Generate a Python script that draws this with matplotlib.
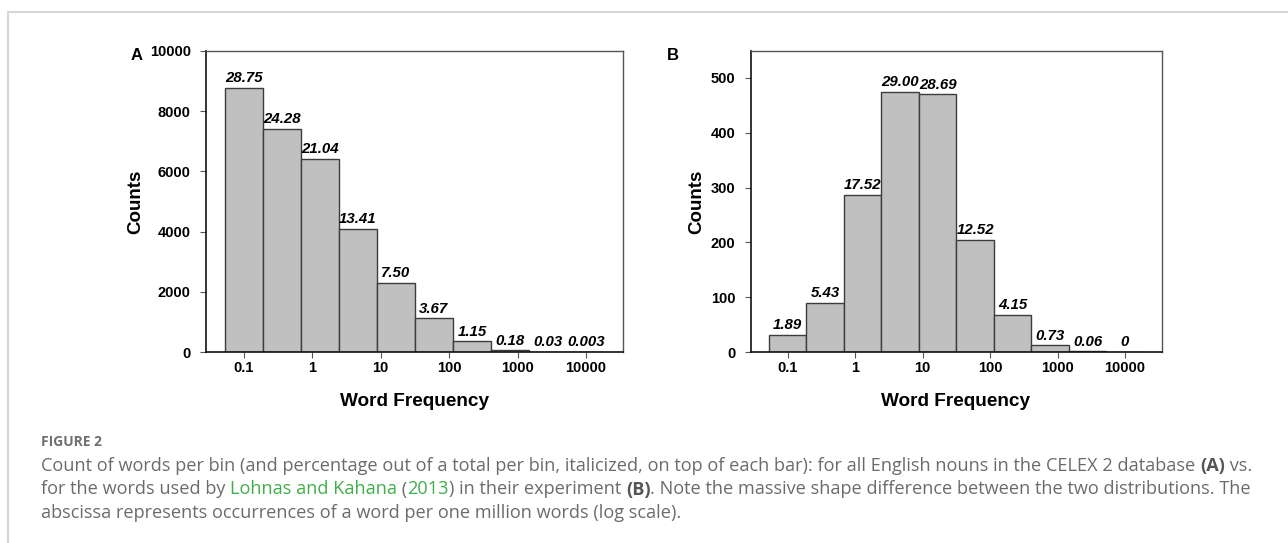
import numpy as np
import matplotlib
matplotlib.use("Agg")
from matplotlib import pyplot as plt
from matplotlib.lines import Line2D

# bin centres (log10 of word frequency per million), same for both panels
bin_centers_log = [-1.0, -0.444, 0.111, 0.667, 1.222, 1.778, 2.333, 2.889, 3.444, 4.0]
bin_width_log = 0.5556

# panel A: all English nouns in CELEX 2
counts_a = [8772, 7408, 6419, 4092, 2288, 1120, 351, 55, 9, 1]
pct_a = ["28.75", "24.28", "21.04", "13.41", "7.50", "3.67", "1.15", "0.18", "0.03", "0.003"]

# panel B: words used by Lohnas and Kahana (2013)
counts_b = [31, 89, 287, 475, 470, 205, 68, 12, 1, 0]
pct_b = ["1.89", "5.43", "17.52", "29.00", "28.69", "12.52", "4.15", "0.73", "0.06", "0"]

xtick_vals = [0.1, 1, 10, 100, 1000, 10000]
xtick_labels = ["0.1", "1", "10", "100", "1000", "10000"]

W, H = 1288, 543
plt.rcParams['font.family'] = ['Liberation Sans', 'DejaVu Sans']
fig = plt.figure(figsize=(W / 100, H / 100), dpi=100)

# light frame around the figure (top and left only)
fig.add_artist(Line2D([8 / W, 1], [1 - 12 / H, 1 - 12 / H], transform=fig.transFigure, color='#d6d6d6', lw=1.5))
fig.add_artist(Line2D([8 / W, 8 / W], [0, 1 - 12 / H], transform=fig.transFigure, color='#d6d6d6', lw=1.5))


def panel(rect, counts, pcts, ymax, yticks):
    ax = fig.add_axes(rect)
    c = np.array(bin_centers_log)
    left = 10 ** (c - bin_width_log / 2)
    right = 10 ** (c + bin_width_log / 2)
    bars = ax.bar(left, counts, width=right - left, align='edge',
                  color='#c0c0c0', edgecolor='#3c3c3c', linewidth=1.0)
    ax.set_xscale('log')
    ax.set_xlim(10 ** -1.55, 10 ** 4.54)
    ax.set_ylim(0, ymax)
    ax.set_xticks(xtick_vals)
    ax.set_xticklabels(xtick_labels)
    ax.xaxis.set_minor_locator(matplotlib.ticker.NullLocator())
    ax.set_yticks(yticks)
    ax.tick_params(axis='both', direction='out', length=4, width=0.8, color='#555555',
                   labelsize=10.5)
    ax.tick_params(axis='x', pad=2.5)
    ax.tick_params(axis='y', pad=7)
    for lab in ax.get_xticklabels() + ax.get_yticklabels():
        lab.set_fontweight('bold')
    for s in ['left', 'bottom']:
        ax.spines[s].set_color('#111111')
        ax.spines[s].set_linewidth(1.2)
    for s in ['top', 'right']:
        ax.spines[s].set_color('#555555')
        ax.spines[s].set_linewidth(1.0)
    for b, txt, cc in zip(bars, pcts, c):
        ax.annotate(txt, (10 ** cc, b.get_height()), xytext=(0, 2), textcoords='offset points',
                    ha='center', va='bottom', fontsize=10.8, fontweight='bold', fontstyle='italic')
    ax.set_xlabel("Word Frequency", fontsize=13.7, fontweight='bold', labelpad=13)
    ax.set_ylabel("Counts", fontsize=13.5, fontweight='bold', labelpad=4)
    return ax


axA = panel([206 / W, 1 - 352 / H, 417 / W, 301 / H], counts_a, pct_a, 10000,
            [0, 2000, 4000, 6000, 8000, 10000])
axB = panel([750.5 / W, 1 - 352 / H, 411 / W, 301 / H], counts_b, pct_b, 549,
            [0, 100, 200, 300, 400, 500])
fig.text(137 / W, 1 - 55 / H, "A", fontsize=12, fontweight='bold', ha='center', va='center')
fig.text(673 / W, 1 - 55 / H, "B", fontsize=12, fontweight='bold', ha='center', va='center')

# caption
cap_font = ['Open Sans', 'DejaVu Sans']
gray = '#6b6b6b'
green = '#3fae49'
cap_fs = 13.1
renderer = fig.canvas.get_renderer()


def advance(s, **kw):
    t1 = fig.text(0, 0, "|" + s + "|", **kw)
    t2 = fig.text(0, 0, "||", **kw)
    w = t1.get_window_extent(renderer).width - t2.get_window_extent(renderer).width
    t1.remove()
    t2.remove()
    return w


def draw_line(runs, x0, y):
    x = x0
    for s, color, weight in runs:
        kw = dict(fontsize=cap_fs, color=color, fontweight=weight, family=cap_font)
        fig.text(x / W, 1 - y / H, s, va='baseline', ha='left', **kw)
        x += advance(s, **kw)


fig.text(41 / W, 1 - 445.7 / H, "FIGURE 2", fontsize=10, fontweight='bold', color='#707070',
         family=cap_font, va='baseline', ha='left')
draw_line([("Count of words per bin (and percentage out of a total per bin, italicized, on top of each bar): "
            "for all English nouns in the CELEX 2 database ", gray, 'normal'),
           ("(A)", '#555555', 'bold'), (" vs.", gray, 'normal')], 41, 471)
draw_line([("for the words used by ", gray, 'normal'), ("Lohnas and Kahana", green, 'normal'),
           (" (", gray, 'normal'), ("2013", green, 'normal'), (") in their experiment ", gray, 'normal'),
           ("(B)", '#555555', 'bold'),
           (". Note the massive shape difference between the two distributions. The", gray, 'normal')], 41, 494.5)
draw_line([("abscissa represents occurrences of a word per one million words (log scale).", gray, 'normal')], 41, 518)

fig.savefig("out.png", dpi=100)
